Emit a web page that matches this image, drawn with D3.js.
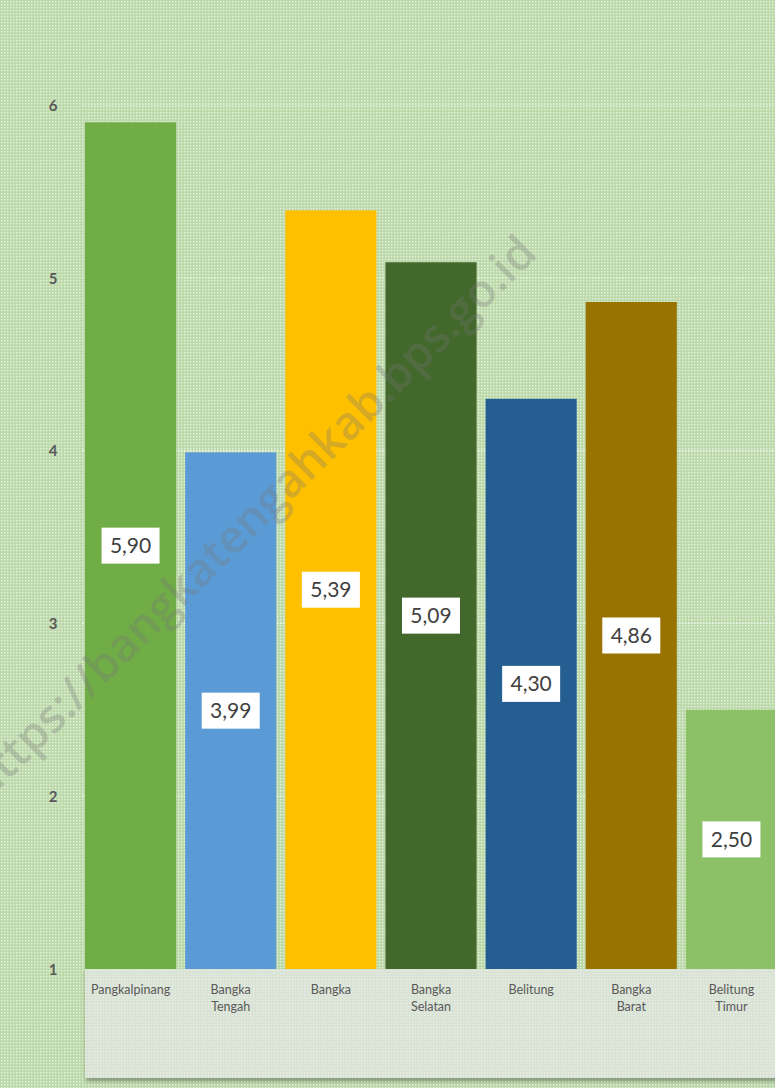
<!DOCTYPE html>
<html><head><meta charset="utf-8">
<script src="https://cdn.jsdelivr.net/npm/d3@7/dist/d3.min.js"></script>
<style>html,body{margin:0;padding:0;background:#c9e1bb;}svg{display:block;}</style>
</head><body>
<script>
const categories = ["Pangkalpinang","Bangka Tengah","Bangka","Bangka Selatan","Belitung","Bangka Barat","Belitung Timur"];
const categoryLines = [["Pangkalpinang"],["Bangka","Tengah"],["Bangka"],["Bangka","Selatan"],["Belitung"],["Bangka","Barat"],["Belitung","Timur"]];
const values = [5.90, 3.99, 5.39, 5.09, 4.30, 4.86, 2.50];
const valueLabels = ["5,90","3,99","5,39","5,09","4,30","4,86","2,50"];
const barColors = ["#70ad47","#5b9bd5","#ffc000","#43682b","#255e91","#997300","#8cc168"];
const yTicks = [1,2,3,4,5,6];
const watermark = "https://bangkatengahkab.bps.go.id";

const W = 775, H = 1088;
const svg = d3.select("body").append("svg").attr("width", W).attr("height", H);
const defs = svg.append("defs");
const pat = defs.append("pattern").attr("id","dots").attr("width",3).attr("height",3).attr("patternUnits","userSpaceOnUse");
pat.append("rect").attr("width",3).attr("height",3).attr("fill","#bcd9a9");
pat.append("rect").attr("x",1).attr("y",1).attr("width",1.4).attr("height",1.4).attr("fill","#e6f1df");
const pat2 = defs.append("pattern").attr("id","dots2").attr("width",3).attr("height",3).attr("patternUnits","userSpaceOnUse");
pat2.append("rect").attr("width",3).attr("height",3).attr("fill","#d9e3d5");
pat2.append("rect").attr("x",1).attr("y",1).attr("width",1.4).attr("height",1.4).attr("fill","#e8eee5");
const f = defs.append("filter").attr("id","shadow").attr("x","-5%").attr("y","-5%").attr("width","110%").attr("height","120%");
f.append("feDropShadow").attr("dx",1).attr("dy",3).attr("stdDeviation",2).attr("flood-color","#000").attr("flood-opacity",0.35);

svg.append("rect").attr("width",W).attr("height",H).attr("fill","url(#dots)");

const y = d3.scaleLinear().domain([1,6]).range([969,105]);
const x = d3.scaleBand().domain(categories).range([80,782]).paddingInner(0.09).paddingOuter(0.05);

// gridlines
svg.append("g").selectAll("line").data(yTicks.slice(1)).join("line")
  .attr("x1",82).attr("x2",W).attr("y1",d=>y(d)).attr("y2",d=>y(d))
  .attr("stroke","#eef5ea").attr("stroke-width",1.2).attr("stroke-dasharray","2,1").attr("opacity",0.8);

// category box
svg.append("rect").attr("x",85).attr("y",969).attr("width",W-85+10).attr("height",109)
  .attr("fill","url(#dots2)").attr("filter","url(#shadow)");

// y axis
const yAxis = d3.axisLeft(y).tickValues(yTicks).tickFormat(d3.format("d")).tickSize(0).tickPadding(0);
const gy = svg.append("g").attr("transform","translate(57,0)").call(yAxis);
gy.select(".domain").remove();
gy.selectAll("text").attr("font-family","Lato, 'Open Sans', sans-serif").attr("font-size",15).attr("font-weight","bold").attr("fill","#595959").attr("text-anchor","middle").attr("x",-4).attr("dy","0.35em");

// bars
svg.append("g").selectAll("rect").data(values).join("rect")
  .attr("x",(d,i)=>x(categories[i])).attr("width",x.bandwidth())
  .attr("y",d=>y(d)).attr("height",d=>y(1)-y(d))
  .attr("fill",(d,i)=>barColors[i]);

// watermark
svg.append("text").attr("transform","translate(254,520) rotate(-44.7)")
  .attr("text-anchor","middle").attr("dominant-baseline","middle")
  .attr("font-family","'Open Sans', 'DejaVu Sans', sans-serif").attr("font-weight","600").attr("font-size",46)
  .attr("fill","#777777").attr("opacity",0.3).text(watermark);

// value labels
const lbl = svg.append("g").selectAll("g").data(values).join("g")
  .attr("transform",(d,i)=>`translate(${x(categories[i])+x.bandwidth()/2},${(y(d)+y(1))/2})`);
lbl.append("rect").attr("x",-29).attr("y",-18).attr("width",58).attr("height",36).attr("fill","#ffffff");
lbl.append("text").attr("text-anchor","middle").attr("dy","0.36em")
  .attr("font-family","Lato, 'Open Sans', sans-serif").attr("font-size",21).attr("fill","#404040")
  .text((d,i)=>valueLabels[i]);

// category labels
const cg = svg.append("g").selectAll("text").data(categories).join("text")
  .attr("x",(d,i)=>x(d)+x.bandwidth()/2).attr("y",994)
  .attr("text-anchor","middle").attr("font-family","Lato, 'Open Sans', sans-serif").attr("font-size",12.5).attr("fill","#595959");
cg.each(function(d,i){
  const t = d3.select(this);
  categoryLines[i].forEach((ln,j)=>{
    t.append("tspan").attr("x",x(d)+x.bandwidth()/2).attr("dy", j===0?0:17).text(ln);
  });
});
</script>
</body></html>
